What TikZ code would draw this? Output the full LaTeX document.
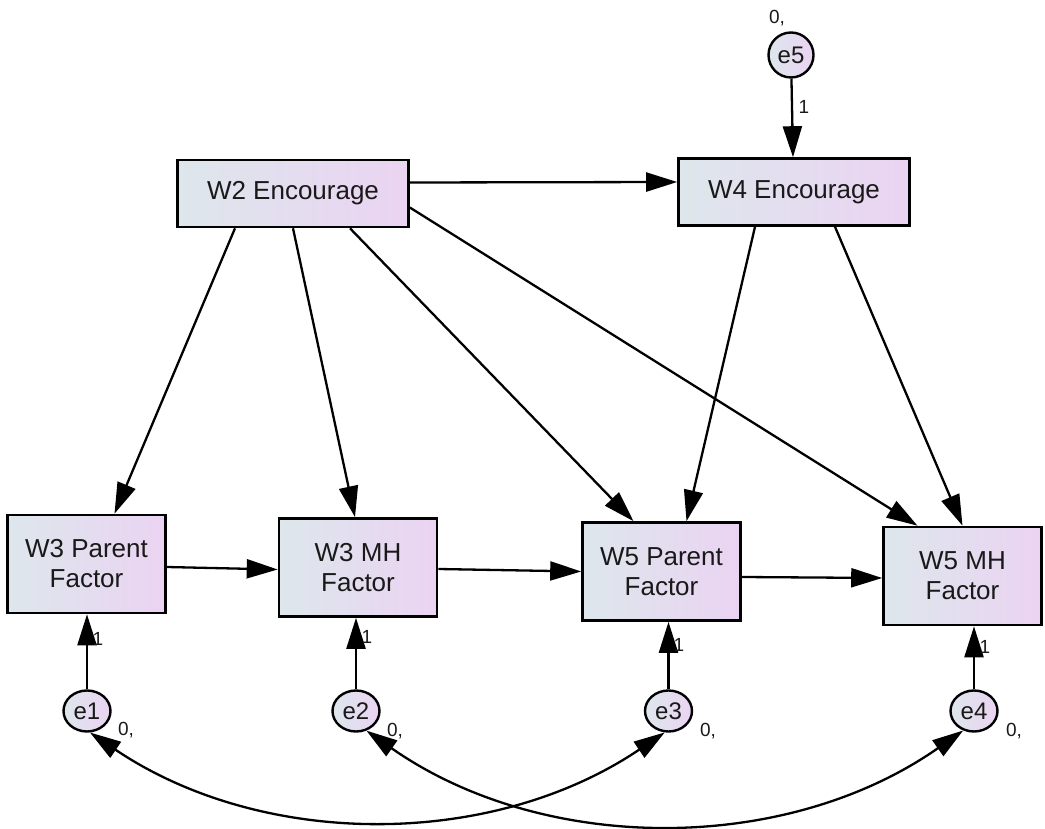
\documentclass[tikz,border=0pt]{standalone}
\usepackage{fontspec}
\setmainfont{Liberation Sans}
\usetikzlibrary{arrows.meta,shapes.geometric}
\definecolor{fillL}{RGB}{221,231,236}
\definecolor{fillR}{RGB}{235,211,242}
\definecolor{ink}{RGB}{25,25,25}
\begin{document}
\begin{tikzpicture}[x=1pt,y=1pt,
  var/.style={draw=black, line width=2.6pt, left color=fillL, right color=fillR,
    align=center, text=ink, inner sep=0pt, font=\fontsize{26}{30}\selectfont},
  wide/.style={var, minimum width=231pt, minimum height=67pt},
  tall/.style={var, minimum width=158pt, minimum height=98pt},
  err/.style={ellipse, draw=black, line width=2.4pt, left color=fillL, right color=fillR,
    minimum width=47pt, minimum height=41pt, inner sep=0pt, text=ink,
    font=\fontsize{24}{28}\selectfont},
  errc/.style={err, minimum width=45pt, minimum height=45pt},
  lbl/.style={inner sep=0pt, text=ink, font=\fontsize{19}{21}\selectfont},
  tip/.tip={Triangle[length=31pt,width=19pt]},
  arr/.style={line width=2.3pt, -tip},
  cov/.style={line width=2.3pt, tip-tip}
]
\useasboundingbox (0,0) rectangle (1045,828);

% observed variables
\node[wide] (w2) at (293,634.5) {W2 Encourage};
\node[wide] (w4) at (794,636) {W4 Encourage};
\node[tall] (w3p) at (86.5,264) {W3 Parent\\Factor};
\node[tall] (w3m) at (358,260.5) {W3 MH\\Factor};
\node[tall] (w5p) at (661.5,256.5) {W5 Parent\\Factor};
\node[tall] (w5m) at (962.5,252) {W5 MH\\Factor};

% error terms
\node[err] (e1) at (87,117) {e1};
\node[err] (e2) at (356,117) {e2};
\node[err] (e3) at (668.5,117) {e3};
\node[err] (e4) at (974,117) {e4};
\node[errc] (e5) at (791,773) {e5};

% paths from W2 Encourage
\draw[arr] ([yshift=11pt]w2.east) -- ([yshift=10pt]w4.west);
\draw[arr] ([xshift=-58pt]w2.south) -- ([xshift=28pt]w3p.north);
\draw[arr] (w2.south) -- ([xshift=-3pt]w3m.north);
\draw[arr] ([xshift=57pt]w2.south) -- ([xshift=-28pt]w5p.north);
\draw[arr] ([yshift=-14pt]w2.east) -- ([xshift=-45pt]w5m.north);

% paths from W4 Encourage
\draw[arr] ([xshift=-39pt]w4.south) -- ([xshift=25pt]w5p.north);
\draw[arr] ([xshift=41pt]w4.south) -- (w5m.north);

% paths along the bottom row
\draw[arr] ([yshift=-3pt]w3p.east) -- ([yshift=-2pt]w3m.west);
\draw[arr] ([yshift=-1.5pt]w3m.east) -- (w5p.west);
\draw[arr] ([yshift=-5.5pt]w5p.east) -- ([yshift=-2pt]w5m.west);

% error paths
\draw[arr] (e1) -- (e1 |- w3p.south);
\draw[arr] (e2) -- (e2 |- w3m.south);
\draw[arr] (e3) -- (e3 |- w5p.south);
\draw[arr] (e4) -- (e4 |- w5m.south);
\draw[arr] (e5) -- ([xshift=-1pt]w4.north);

% covariances between error terms (circular arcs)
\draw[cov] (e1.-82) to[out=-34, in=-146, looseness=0.93] (e3.-100);
\draw[cov] (e2.-62) to[out=-35, in=-145, looseness=0.93] (e4.-119);

% regression weights
\node[lbl] (k1) at (98,189.5) {1};
\node[lbl] (k2) at (367,191) {1};
\node[lbl] (k3) at (679,183) {1};
\node[lbl] (k4) at (985,181) {1};
\node[lbl] (k5) at (804,721) {1};

% means and variances
\node[lbl] (m1) at (126,98) {0,};
\node[lbl] (m2) at (395,97) {0,};
\node[lbl] (m3) at (708,97) {0,};
\node[lbl] (m4) at (1014,97) {0,};
\node[lbl] (m5) at (777,810) {0,};
\end{tikzpicture}
\end{document}
